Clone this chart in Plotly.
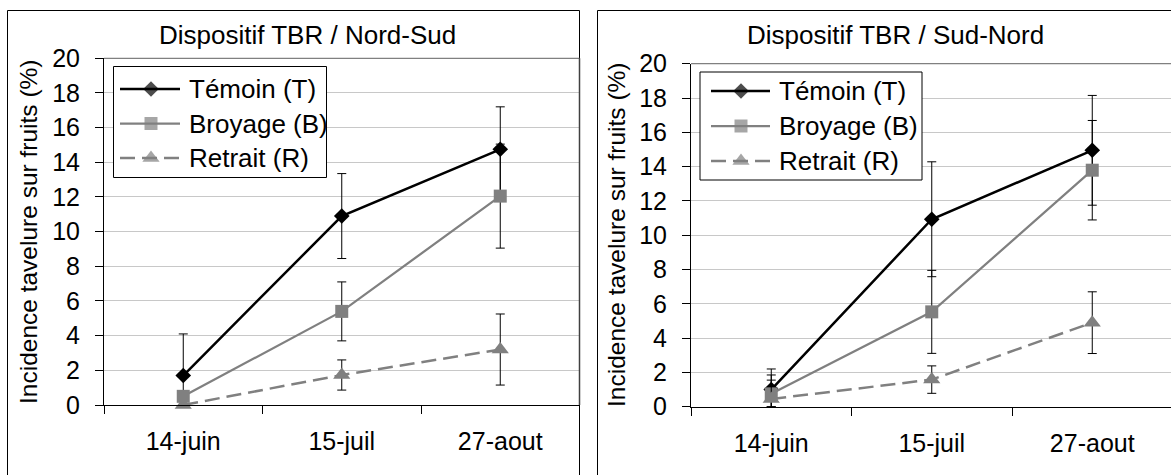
import plotly.graph_objects as go

W, H = 1171, 475

# ---------------- data ----------------
dates = ["14-juin", "15-juil", "27-aout"]
series_names = ["Témoin (T)", "Broyage (B)", "Retrait (R)"]

# Dispositif TBR / Nord-Sud
ns_temoin = [1.7, 10.9, 14.75]
ns_temoin_err = [2.4, 2.45, 2.45]
ns_broyage = [0.5, 5.4, 12.05]
ns_broyage_err = [0.3, 1.7, 3.0]
ns_retrait = [0.0, 1.73, 3.2]
ns_retrait_err = [0.0, 0.87, 2.05]

# Dispositif TBR / Sud-Nord
sn_temoin = [1.0, 10.93, 14.95]
sn_temoin_err = [1.2, 3.35, 3.2]
sn_broyage = [0.75, 5.53, 13.79]
sn_broyage_err = [1.1, 2.42, 2.9]
sn_retrait = [0.45, 1.58, 4.9]
sn_retrait_err = [1.1, 0.8, 1.8]

panel_titles = ["Dispositif TBR / Nord-Sud", "Dispositif TBR / Sud-Nord"]
y_title = "Incidence tavelure sur fruits (%)"
y_ticks = [0, 2, 4, 6, 8, 10, 12, 14, 16, 18, 20]

# ---------------- styles ----------------
FONT = "Liberation Sans, Arial, sans-serif"
GRAY = "#808080"
styles = [
    dict(color="#000000", width=2.5, dash="solid", symbol="diamond", size=12),
    dict(color=GRAY, width=2.25, dash="solid", symbol="square", size=13),
    dict(color=GRAY, width=2.5, dash="15px,7px", symbol="triangle-up", size=15),
]


def fx(px):
    return px / W


def fy(py):
    return 1 - py / H


fig = go.Figure()

panels = [
    (("x", "y"), [(ns_temoin, ns_temoin_err), (ns_broyage, ns_broyage_err), (ns_retrait, ns_retrait_err)]),
    (("x2", "y2"), [(sn_temoin, sn_temoin_err), (sn_broyage, sn_broyage_err), (sn_retrait, sn_retrait_err)]),
]

for (xa, ya), data in panels:
    for (vals, errs), st, name in zip(data, styles, series_names):
        fig.add_trace(go.Scatter(
            x=dates, y=vals, xaxis=xa, yaxis=ya, name=name, showlegend=False,
            mode="lines+markers", cliponaxis=False,
            line=dict(color=st["color"], width=st["width"], dash=st["dash"]),
            marker=dict(symbol=st["symbol"], size=st["size"], color=st["color"], line=dict(width=0)),
            error_y=dict(type="data", array=errs, arrayminus=[min(e, v) for e, v in zip(errs, vals)],
                         visible=True, color="#000000", thickness=1, width=4.5),
        ))

# ---------------- axes ----------------
common_x = dict(type="category", tickson="boundaries", ticks="outside", ticklen=8, tickcolor="#000000",
                tickwidth=1, showline=True, linecolor="#000000", linewidth=1, showgrid=False,
                zeroline=False, tickfont=dict(family=FONT, size=25, color="#000000"),
                ticklabelstandoff=14, fixedrange=True, automargin=False)
common_y = dict(range=[0, 20], tickvals=y_ticks, ticks="outside", ticklen=8, tickcolor="#000000",
                tickwidth=1, showline=True, linecolor="#000000", linewidth=1, showgrid=True,
                gridcolor="#c8c8c8", gridwidth=1, zeroline=False,
                tickfont=dict(family=FONT, size=25, color="#000000"), ticklabelstandoff=10,
                fixedrange=True, automargin=False)

L_left, L_right, L_top, L_bot = 104, 579.5, 58.3, 405
R_left, R_right, R_top, R_bot = 691, 1171, 63.7, 406.7
bw_right = 160.5

fig.update_layout(
    xaxis=dict(domain=[fx(L_left), fx(L_right)], anchor="y", range=[-0.5, 2.5], **common_x),
    yaxis=dict(domain=[fy(L_bot), fy(L_top)], anchor="x", **common_y),
    xaxis2=dict(domain=[fx(R_left), 1.0], anchor="y2",
                range=[-0.5, -0.5 + (R_right - R_left) / bw_right], **common_x),
    yaxis2=dict(domain=[fy(R_bot), fy(R_top)], anchor="x2", **common_y),
    xaxis3=dict(domain=[0, 1], anchor="y3", range=[0, W], visible=False, fixedrange=True,
                automargin=False, showgrid=False, zeroline=False),
    yaxis3=dict(domain=[0, 1], anchor="x3", range=[H, 0], visible=False, fixedrange=True,
                automargin=False, showgrid=False, zeroline=False),
)

shapes = []
annotations = []

# panel frames
shapes.append(dict(type="rect", xref="x3", yref="y3", x0=7.5, y0=10.5, x1=579.5, y1=H + 5,
                   line=dict(color="#000000", width=1), fillcolor="rgba(0,0,0,0)", layer="below"))
shapes.append(dict(type="rect", xref="x3", yref="y3", x0=597.5, y0=10.5, x1=W + 5, y1=H + 5,
                   line=dict(color="#000000", width=1), fillcolor="rgba(0,0,0,0)", layer="below"))
# plot area top / right borders
shapes.append(dict(type="line", xref="x3", yref="y3", x0=L_left, y0=L_top, x1=L_right, y1=L_top,
                   line=dict(color=GRAY, width=1.2), layer="below"))
shapes.append(dict(type="line", xref="x3", yref="y3", x0=L_right, y0=L_top, x1=L_right, y1=L_bot,
                   line=dict(color="#404040", width=1.5), layer="below"))
shapes.append(dict(type="line", xref="x3", yref="y3", x0=R_left, y0=R_top, x1=W, y1=R_top,
                   line=dict(color=GRAY, width=1.2), layer="below"))

# titles and y-axis titles
for cx, ty, txt in [(307, 35, panel_titles[0]), (895, 35, panel_titles[1])]:
    annotations.append(dict(xref="x3", yref="y3", x=cx, y=ty, text=txt, showarrow=False,
                            xanchor="center", yanchor="middle",
                            font=dict(family=FONT, size=26, color="#000000")))
for cx, cy in [(28, 232), (616, 235)]:
    annotations.append(dict(xref="x3", yref="y3", x=cx, y=cy, text=y_title, showarrow=False,
                            textangle=-90, xanchor="center", yanchor="middle",
                            font=dict(family=FONT, size=24.5, color="#000000")))

# legends (box + samples + text)
legend_specs = [
    dict(box=(113.5, 66.5, 326.5, 177.5), x0=120, xm=151, x1=180, xt=187, ys=[89, 123.5, 158]),
    dict(box=(700, 72, 922, 180), x0=711, xm=741, x1=770, xt=777, ys=[91, 126, 161]),
]
for spec in legend_specs:
    bx0, by0, bx1, by1 = spec["box"]
    shapes.append(dict(type="rect", xref="x3", yref="y3", x0=bx0, y0=by0, x1=bx1, y1=by1,
                       line=dict(color="#000000", width=1), fillcolor="#ffffff", layer="below"))

for spec in legend_specs:
    for st, name, yy in zip(styles, series_names, spec["ys"]):
        fig.add_trace(go.Scatter(
            x=[spec["x0"], spec["xm"], spec["x1"]], y=[yy, yy, yy], xaxis="x3", yaxis="y3",
            mode="lines+markers", showlegend=False, hoverinfo="skip",
            line=dict(color=st["color"], width=st["width"], dash=st["dash"]),
            marker=dict(symbol=st["symbol"], size=[0, st["size"], 0], color=st["color"], line=dict(width=0)),
        ))
        annotations.append(dict(xref="x3", yref="y3", x=spec["xt"], y=yy, text=name, showarrow=False,
                                xanchor="left", yanchor="middle",
                                font=dict(family=FONT, size=26, color="#000000")))

fig.update_layout(
    width=W, height=H, margin=dict(l=0, r=0, t=0, b=0, pad=0, autoexpand=False),
    paper_bgcolor="#ffffff", plot_bgcolor="rgba(0,0,0,0)",
    showlegend=False, shapes=shapes, annotations=annotations,
    font=dict(family=FONT, color="#000000"),
)

fig.write_html("out.html", config={"displayModeBar": False},
               post_script="document.body.style.margin='0';document.body.style.overflow='hidden';")
